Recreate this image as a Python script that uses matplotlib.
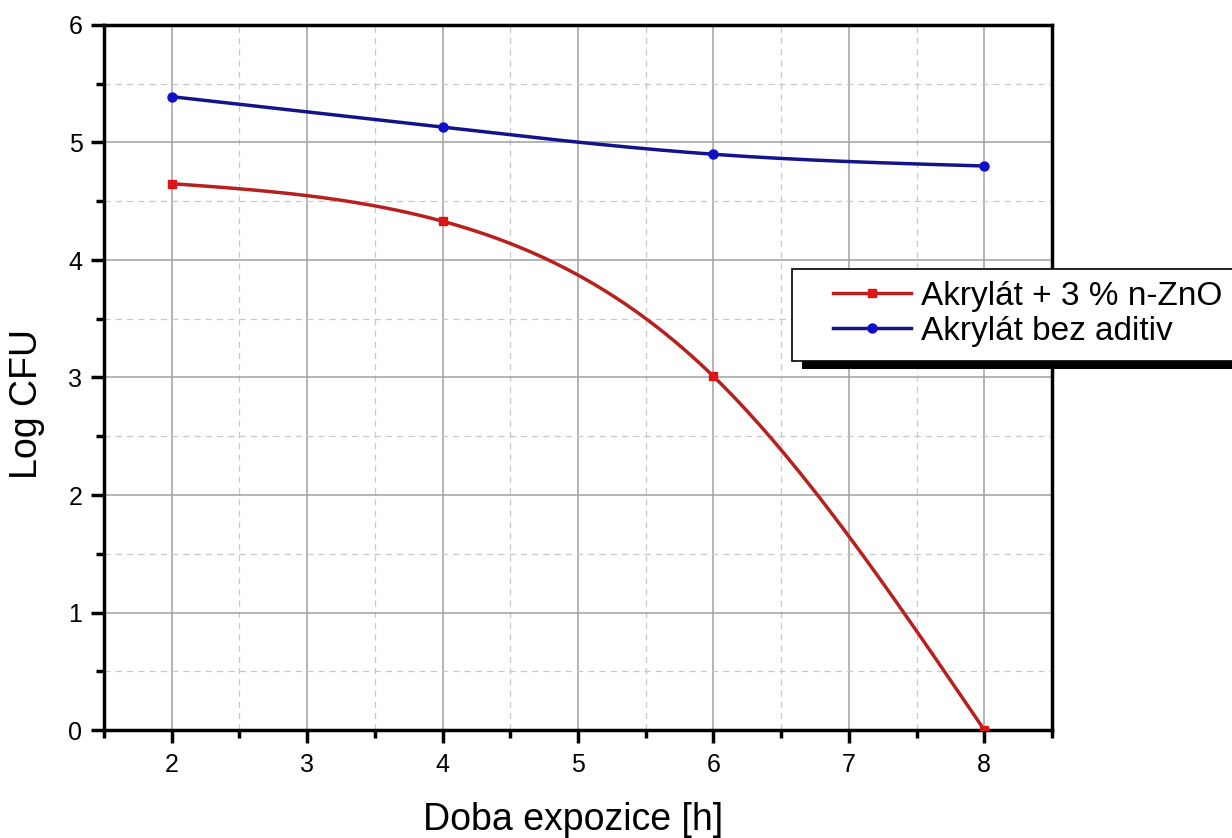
import numpy as np
import matplotlib.pyplot as plt
from matplotlib.patches import Rectangle
from matplotlib.ticker import MultipleLocator

hours = [2, 4, 6, 8]
zno = [4.65, 4.33, 3.01, 0.0]
plain = [5.39, 5.13, 4.90, 4.80]
labels = ['Akrylát + 3 % n-ZnO', 'Akrylát bez aditiv']


def spline(x, y, n=200):
    # natural cubic spline through the points, like Origin's spline connect
    x = np.asarray(x, float)
    y = np.asarray(y, float)
    k = len(x)
    h = np.diff(x)
    a = np.zeros((k, k))
    b = np.zeros(k)
    a[0, 0] = a[-1, -1] = 1
    for i in range(1, k - 1):
        a[i, i - 1] = h[i - 1]
        a[i, i] = 2 * (h[i - 1] + h[i])
        a[i, i + 1] = h[i]
        b[i] = 6 * ((y[i + 1] - y[i]) / h[i] - (y[i] - y[i - 1]) / h[i - 1])
    m = np.linalg.solve(a, b)
    xs = np.linspace(x[0], x[-1], n)
    idx = np.clip(np.searchsorted(x, xs) - 1, 0, k - 2)
    x0, x1 = x[idx], x[idx + 1]
    hh = x1 - x0
    t0, t1 = x1 - xs, xs - x0
    ys = (m[idx] * t0 ** 3 + m[idx + 1] * t1 ** 3) / (6 * hh) \
        + (y[idx] / hh - m[idx] * hh / 6) * t0 \
        + (y[idx + 1] / hh - m[idx + 1] * hh / 6) * t1
    return xs, ys


def main():
    plt.rcParams['font.family'] = ['Liberation Sans', 'DejaVu Sans']
    W, H = 1232, 838
    fig = plt.figure(figsize=(W / 100, H / 100), dpi=100)
    ax = fig.add_axes([104 / W, 108 / H, 948 / W, 705 / H])

    red_line, red_mark = '#b82020', '#dd1515'
    blue_line, blue_mark = '#14148a', '#1010c8'

    xs, ys = spline(hours, zno)
    ax.plot(xs, ys, color=red_line, lw=2.5, zorder=3)
    ax.plot(hours, zno, 's', color=red_mark, ms=6, zorder=4)
    xs, ys = spline(hours, plain)
    ax.plot(xs, ys, color=blue_line, lw=2.5, zorder=3)
    ax.plot(hours, plain, 'o', color=blue_mark, ms=6.5, zorder=4)

    ax.set_xlim(1.5, 8.5)
    ax.set_ylim(0, 6)
    ax.xaxis.set_major_locator(MultipleLocator(1))
    ax.xaxis.set_minor_locator(MultipleLocator(0.5))
    ax.yaxis.set_major_locator(MultipleLocator(1))
    ax.yaxis.set_minor_locator(MultipleLocator(0.5))
    ax.grid(which='major', color='#a0a0a0', lw=1.1)
    ax.grid(which='minor', color='#c8c8c8', lw=0.9, ls=(0, (5, 4)))
    ax.set_axisbelow(True)

    for s in ax.spines.values():
        s.set_linewidth(2.5)
    ax.tick_params(which='major', direction='out', length=9.5, width=2.5,
                   labelsize=18)
    ax.tick_params(axis='x', which='major', pad=7)
    ax.tick_params(axis='y', which='major', pad=6)
    ax.tick_params(which='minor', direction='out', length=6, width=2.5)

    ax.set_xlabel('Doba expozice [h]', fontsize=27)
    ax.xaxis.set_label_coords(0.495, -0.128)
    ax.xaxis.label.set_va('center')
    ax.set_ylabel('Log CFU', fontsize=27)
    ax.yaxis.set_label_coords(-0.062, 0.462)

    # legend frame with a hard black shadow, cut off at the right edge
    fig.patches.append(Rectangle((802 / W, 1 - 369 / H), 500 / W, 92 / H,
                                 transform=fig.transFigure,
                                 facecolor='black', edgecolor='none',
                                 zorder=5))
    fig.patches.append(Rectangle((792 / W, 1 - 361 / H), 500 / W, 92 / H,
                                 transform=fig.transFigure,
                                 facecolor='white', edgecolor='black',
                                 lw=1.2, zorder=6))

    handles = [
        plt.Line2D([], [], color=red_line, lw=2.5, marker='s', ms=6,
                   mfc=red_mark, mec=red_mark),
        plt.Line2D([], [], color=blue_line, lw=2.5, marker='o', ms=6.5,
                   mfc=blue_mark, mec=blue_mark),
    ]
    leg = fig.legend(handles, labels, loc='upper left',
                     bbox_to_anchor=(833 / W, 1 - 281 / H),
                     fontsize=24, frameon=False, borderpad=0,
                     borderaxespad=0, labelspacing=0.12,
                     handlelength=2.35, handletextpad=0.3)
    leg.set_zorder(7)

    fig.savefig('out.png', dpi=100)


if __name__ == '__main__':
    main()
